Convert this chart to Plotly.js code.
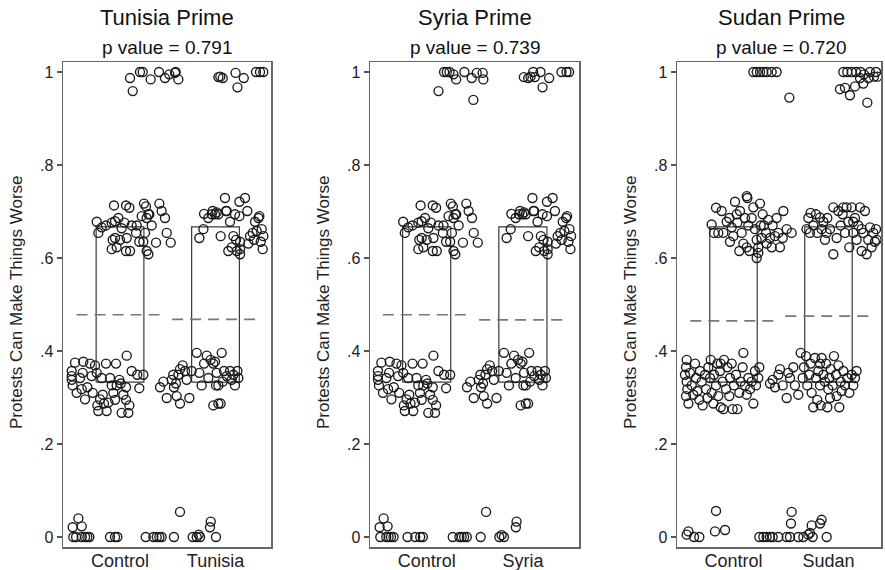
<!DOCTYPE html>
<html>
<head>
<meta charset="utf-8">
<script src="https://cdn.plot.ly/plotly-3.0.1.min.js"></script>
<style>html,body{margin:0;padding:0;background:#fff;}#chart{width:885px;height:570px;}</style>
</head>
<body>
<div id="chart"></div>
<script>
// ---------- DATA (x = jittered group position: 0 = Control, 1 = treatment) ----------
const panelTitles = ["Tunisia Prime", "Syria Prime", "Sudan Prime"];
const pValues = ["0.791", "0.739", "0.720"];
const groupLabels = [["Control", "Tunisia"], ["Control", "Syria"], ["Control", "Sudan"]];
const yTickVals = [0, 0.2, 0.4, 0.6, 0.8, 1];
const yTickText = ["0", ".2", ".4", ".6", ".8", "1"];
const yAxisTitle = "Protests Can Make Things Worse";

// box (25th / 75th percentiles) per group: [control, treatment]
const boxLow  = [[0.333, 0.333], [0.333, 0.333], [0.333, 0.333]];
const boxHigh = [[0.667, 0.667], [0.667, 0.667], [0.667, 0.667]];
// group means (dashed lines)
const groupMeans = [[0.478, 0.468], [0.478, 0.467], [0.465, 0.475]];

// Tunisia panel
const tunisiaTopX = [0.105,0.133,0.209,0.237,0.321,0.408,0.471,0.516,0.583,0.611,0.576,1.03,1.076,1.21,1.23,1.296,1.424,1.5,1.466,1.05];
const tunisiaTopY = [0.987,0.959,1,1,0.984,1,0.987,0.995,1,0.984,0.998,0.989,0.987,0.998,0.967,0.987,1,1,1,0.99];
const tunisiaZeroX = [-0.496,-0.436,-0.401,-0.489,-0.46,-0.401,-0.366,-0.342,-0.321,-0.105,-0.052,-0.028,0.269,0.349,0.384,0.412,0.436,0.565,0.628,0.761,0.803,0.824,0.838,0.95,0.942,1.005];
const tunisiaZeroY = [0.021,0.04,0.023,0,0,0,0,0,0,0,0,0,0,0,0,0,0,0,0.054,0,0,0.005,0,0.033,0.021,0];
const tunisiaMidX = [-0.244,-0.227,-0.192,-0.147,-0.087,-0.063,-0.052,-0.077,-0.087,-0.035,-0.052,-0.017,0.017,0,0.063,0.098,0.045,0.07,0.063,0.105,0.122,0.168,0.175,0.202,0.227,0.251,0.272,0.279,0.297,0.262,0.244,0.279,0.297,0.307,0.332,0.377,0.412,0.436,0.471,0.489,0.531,
  0.831,0.873,0.88,0.925,0.96,0.97,0.995,1.012,1.03,1.054,1.099,1.11,1.134,1.117,1.152,1.169,1.187,1.204,1.215,1.222,1.25,1.257,1.25,1.257,1.257,1.309,1.333,1.361,1.389,1.414,1.431,1.459,1.473,1.484,1.501,1.494,1.403,1.449,1.344];
const tunisiaMidY = [0.678,0.654,0.666,0.67,0.676,0.713,0.679,0.639,0.619,0.623,0.643,0.686,0.664,0.639,0.713,0.708,0.676,0.643,0.615,0.615,0.67,0.654,0.67,0.635,0.69,0.717,0.711,0.686,0.694,0.654,0.635,0.615,0.608,0.694,0.67,0.633,0.717,0.701,0.686,0.654,0.633,
  0.643,0.662,0.695,0.686,0.694,0.701,0.694,0.698,0.694,0.647,0.729,0.701,0.615,0.701,0.678,0.623,0.647,0.694,0.639,0.615,0.721,0.608,0.69,0.635,0.619,0.729,0.701,0.647,0.654,0.678,0.658,0.69,0.635,0.662,0.647,0.619,0.639,0.686,0.631];
const tunisiaLowX = [-0.506,-0.506,-0.506,-0.496,-0.471,-0.454,-0.419,-0.391,-0.384,-0.401,-0.366,-0.342,-0.314,-0.297,-0.286,-0.262,-0.244,-0.237,-0.227,-0.209,-0.192,-0.181,-0.168,-0.147,-0.14,-0.122,-0.105,-0.087,-0.07,-0.052,-0.035,-0.007,0.007,0.035,0.063,0.087,0.063,0.017,-0.042,0.098,0.07,0.181,0.202,0.244,0.122,0.454,0.489,0.419,0.565,
  0.586,0.611,0.628,0.656,0.593,0.628,0.681,0.698,0.726,0.75,0.803,0.831,0.855,0.88,0.908,0.925,0.949,0.977,0.995,1.005,1.012,1.03,1.054,1.065,1.075,1.089,1.117,1.152,1.169,1.187,1.204,1.229,1.239,0.977,1.03,0.558,0.541];
const tunisiaLowY = [0.357,0.346,0.338,0.326,0.375,0.31,0.342,0.353,0.377,0.318,0.296,0.322,0.373,0.346,0.31,0.369,0.353,0.283,0.271,0.296,0.342,0.306,0.287,0.373,0.271,0.289,0.342,0.326,0.31,0.295,0.326,0.338,0.33,0.306,0.295,0.267,0.322,0.267,0.373,0.283,0.39,0.349,0.32,0.349,0.357,0.334,0.299,0.322,0.322,
  0.33,0.349,0.361,0.369,0.303,0.287,0.357,0.338,0.299,0.357,0.396,0.353,0.326,0.373,0.39,0.342,0.381,0.373,0.377,0.326,0.353,0.326,0.287,0.396,0.334,0.357,0.346,0.357,0.338,0.349,0.326,0.357,0.342,0.283,0.287,0.349,0.338];

// Syria panel (middle clusters read as the same as the Tunisia panel)
const syriaTopX = [0.123,0.181,0.209,0.237,0.278,0.306,0.392,0.468,0.485,0.52,0.589,0.582,1.01,1.055,1.079,1.107,1.124,1.183,1.204,1.273,1.401,1.453,1.48];
const syriaTopY = [0.959,1,1,1,0.995,0.984,1,0.987,0.94,0.998,0.984,0.998,0.989,0.987,0.99,1,0.989,1,0.967,0.987,1,1,1];
const syriaZeroX = [-0.489,-0.447,-0.406,-0.482,-0.42,-0.396,-0.371,-0.344,-0.199,-0.119,-0.067,-0.04,0.271,0.34,0.364,0.389,0.417,0.561,0.617,0.755,0.779,0.803,0.927,0.934];
const syriaZeroY = [0.021,0.04,0.023,0,0,0,0,0,0,0,0,0,0,0,0,0,0,0,0.054,0,0.004,0,0.021,0.033];
const syriaMidX = tunisiaMidX.slice();
const syriaMidY = tunisiaMidY.slice();
const syriaLowX = tunisiaLowX.slice();
const syriaLowY = tunisiaLowY.slice();

// Sudan panel
const sudanTopX = [0.209,0.244,0.279,0.314,0.349,0.402,0.454,0.588,1.156,1.198,1.244,1.29,1.339,1.374,1.437,1.5,1.514,1.332,1.419,1.367,1.279,1.121,1.174,1.226,1.409,1.479];
const sudanTopY = [1,1,1,1,1,1,1,0.945,1,1,1,1,1,0.995,1,1,0.99,0.987,0.987,0.975,0.969,0.963,0.966,0.95,0.934,0.99];
const sudanZeroX = [-0.493,-0.475,-0.416,-0.36,-0.184,-0.195,-0.089,0.272,0.314,0.349,0.384,0.412,0.472,0.56,0.595,0.605,0.612,0.682,0.735,0.788,0.805,0.823,0.833,0.911,0.928,0.981];
const sudanZeroY = [0.005,0.012,0,0,0.056,0.012,0.015,0,0,0,0,0,0,0,0,0.029,0.054,0,0,0.005,0.009,0.025,0,0.029,0.037,0];
const sudanMidX = [-0.23,-0.184,-0.205,-0.16,-0.125,-0.107,-0.072,-0.044,-0.019,-0.002,0.016,0.033,0.04,0.068,0.086,0.061,0.104,0.121,0.139,0.146,0.156,0.167,0.191,0.209,0.226,0.244,0.261,0.279,0.286,0.296,0.307,0.321,0.342,0.349,0.367,0.384,0.402,0.412,0.437,0.454,0.472,0.489,0.518,0.525,0.56,0.612,-0.037,0.261,0.139,0.244,
  0.769,0.788,0.805,0.812,0.841,0.868,0.882,0.911,0.928,0.946,0.963,0.981,0.988,1.016,1.051,1.051,1.086,1.104,1.128,1.149,1.156,1.174,1.191,1.209,1.219,1.244,1.261,1.279,1.296,1.314,1.332,1.349,1.367,1.384,1.402,1.419,1.437,1.454,1.472,1.489,1.5,1.507,1.261,1.349];
const sudanMidY = [0.672,0.708,0.654,0.654,0.701,0.654,0.678,0.686,0.666,0.647,0.721,0.694,0.676,0.701,0.654,0.615,0.631,0.686,0.733,0.729,0.67,0.615,0.686,0.709,0.662,0.639,0.611,0.717,0.67,0.643,0.694,0.67,0.654,0.631,0.682,0.643,0.623,0.67,0.647,0.686,0.654,0.623,0.643,0.701,0.662,0.654,0.635,0.623,0.623,0.6,
  0.662,0.686,0.654,0.697,0.67,0.694,0.654,0.687,0.662,0.678,0.639,0.654,0.686,0.662,0.608,0.709,0.643,0.701,0.67,0.694,0.709,0.654,0.709,0.678,0.623,0.709,0.654,0.686,0.639,0.67,0.709,0.615,0.654,0.701,0.608,0.639,0.666,0.623,0.654,0.635,0.662,0.639,0.678,0.662];
const sudanLowX = [-0.493,-0.5,-0.511,-0.493,-0.486,-0.5,-0.475,-0.458,-0.44,-0.423,-0.405,-0.395,-0.381,-0.36,-0.353,-0.335,-0.325,-0.3,-0.289,-0.275,-0.265,-0.247,-0.24,-0.23,-0.212,-0.205,-0.184,-0.17,-0.16,-0.142,-0.135,-0.114,-0.107,-0.1,-0.079,-0.065,-0.044,-0.037,-0.019,-0.009,0.005,0.026,0.04,0.061,0.075,0.096,0.104,0.121,0.139,0.156,0.174,0.191,0.209,0.226,0.237,0.261,0.272,-0.135,
  0.384,0.412,0.437,0.472,0.489,0.518,0.56,0.577,0.595,0.63,0.647,0.682,0.707,0.728,0.742,0.763,0.777,0.798,0.812,0.823,0.84,0.858,0.868,0.882,0.893,0.911,0.918,0.928,0.946,0.963,0.974,0.988,0.998,1.009,1.023,1.044,1.058,1.079,1.086,1.104,1.114,1.128,1.139,1.156,1.174,1.198,1.219,1.244,1.261,1.279,1.296,0.911,1.016];
const sudanLowY = [0.381,0.365,0.349,0.334,0.318,0.303,0.287,0.353,0.326,0.306,0.373,0.342,0.314,0.295,0.357,0.334,0.283,0.349,0.318,0.299,0.365,0.342,0.381,0.31,0.287,0.349,0.326,0.373,0.303,0.357,0.279,0.334,0.275,0.381,0.318,0.365,0.303,0.342,0.373,0.275,0.326,0.349,0.275,0.31,0.334,0.365,0.396,0.326,0.306,0.342,0.318,0.334,0.287,0.357,0.326,0.342,0.365,0.373,
  0.33,0.338,0.322,0.349,0.361,0.326,0.299,0.353,0.342,0.365,0.326,0.306,0.396,0.342,0.365,0.389,0.326,0.349,0.373,0.31,0.279,0.385,0.342,0.295,0.357,0.326,0.283,0.385,0.349,0.334,0.373,0.279,0.318,0.342,0.361,0.326,0.389,0.349,0.303,0.369,0.279,0.334,0.314,0.357,0.326,0.342,0.31,0.349,0.326,0.342,0.357,0.373,0.299];

// ---------- LAYOUT / STYLE ----------
const W = 885, H = 570;
const FONT = "Liberation Sans, Arial, Helvetica, sans-serif";
const frames = [[63, 271], [370, 579], [677, 881]];        // panel frame, px
const xRanges = [[-0.597, 1.581], [-0.589, 1.583], [-0.595, 1.553]];
const yRange = [-0.0215, 1.0215];
const frameTop = 62, frameBottom = 547;
const boxHalf = 0.25, meanHalf = 0.455;

const panelData = [
  [tunisiaTopX.concat(tunisiaZeroX, tunisiaMidX, tunisiaLowX), tunisiaTopY.concat(tunisiaZeroY, tunisiaMidY, tunisiaLowY)],
  [syriaTopX.concat(syriaZeroX, syriaMidX, syriaLowX), syriaTopY.concat(syriaZeroY, syriaMidY, syriaLowY)],
  [sudanTopX.concat(sudanZeroX, sudanMidX, sudanLowX), sudanTopY.concat(sudanZeroY, sudanMidY, sudanLowY)]
];

const traces = [];
const layout = {
  width: W, height: H,
  margin: {l: 0, r: 0, t: 0, b: 0},
  paper_bgcolor: "#fff", plot_bgcolor: "#fff",
  showlegend: false,
  font: {family: FONT, color: "#222"},
  annotations: []
};

for (let p = 0; p < 3; p++) {
  const sfx = p === 0 ? "" : String(p + 1);
  const xa = "x" + sfx, ya = "y" + sfx;
  for (let g = 0; g < 2; g++) {
    traces.push({
      type: "scatter", mode: "lines", xaxis: xa, yaxis: ya, hoverinfo: "skip",
      x: [g - boxHalf, g + boxHalf, g + boxHalf, g - boxHalf, g - boxHalf],
      y: [boxLow[p][g], boxLow[p][g], boxHigh[p][g], boxHigh[p][g], boxLow[p][g]],
      line: {color: "#3a3a3a", width: 1.2}
    });
    traces.push({
      type: "scatter", mode: "lines", xaxis: xa, yaxis: ya, hoverinfo: "skip",
      x: [g - meanHalf, g + meanHalf],
      y: [groupMeans[p][g], groupMeans[p][g]],
      line: {color: "#777", width: 1.7, dash: "11px,7px"}
    });
  }
  traces.push({
    type: "scatter", mode: "markers", xaxis: xa, yaxis: ya,
    x: panelData[p][0], y: panelData[p][1],
    marker: {symbol: "circle-open", size: 9, color: "#1a1a1a", line: {width: 1.35, color: "#1a1a1a"}}
  });

  layout["xaxis" + sfx] = {
    domain: [frames[p][0] / W, frames[p][1] / W], anchor: ya,
    range: xRanges[p], showgrid: false, zeroline: false,
    tickvals: [0, 1], ticktext: groupLabels[p], ticks: "", ticklabelstandoff: -3,
    tickfont: {size: 18, family: FONT, color: "#222"},
    showline: true, mirror: true, linecolor: "#666", linewidth: 1.5
  };
  layout["yaxis" + sfx] = {
    domain: [(H - frameBottom) / H, (H - frameTop) / H], anchor: xa,
    range: yRange, showgrid: false, zeroline: false,
    tickvals: yTickVals, ticktext: yTickText, ticks: "outside", ticklen: 5,
    tickcolor: "#555", tickwidth: 1.2,
    tickfont: {size: 16, family: FONT, color: "#222"},
    showline: true, mirror: true, linecolor: "#666", linewidth: 1.5
  };

  const cx = (frames[p][0] + frames[p][1]) / 2 + (p === 2 ? 2 : 0);
  layout.annotations.push({
    xref: "paper", yref: "paper", x: cx / W, y: 1 - 18 / H, xanchor: "center", yanchor: "middle",
    text: panelTitles[p], showarrow: false, font: {size: 22, family: FONT, color: "#111"}
  });
  layout.annotations.push({
    xref: "paper", yref: "paper", x: cx / W, y: 1 - 47 / H, xanchor: "center", yanchor: "middle",
    text: "p value = " + pValues[p], showarrow: false, font: {size: 19, family: FONT, color: "#111"}
  });
  layout.annotations.push({
    xref: "paper", yref: "paper", x: (frames[p][0] - 47) / W, y: 1 - 302 / H, xanchor: "center", yanchor: "middle",
    text: yAxisTitle, textangle: -90, showarrow: false, font: {size: 17, family: FONT, color: "#222"}
  });
}

Plotly.newPlot("chart", traces, layout, {staticPlot: true, displayModeBar: false});
</script>
</body>
</html>
